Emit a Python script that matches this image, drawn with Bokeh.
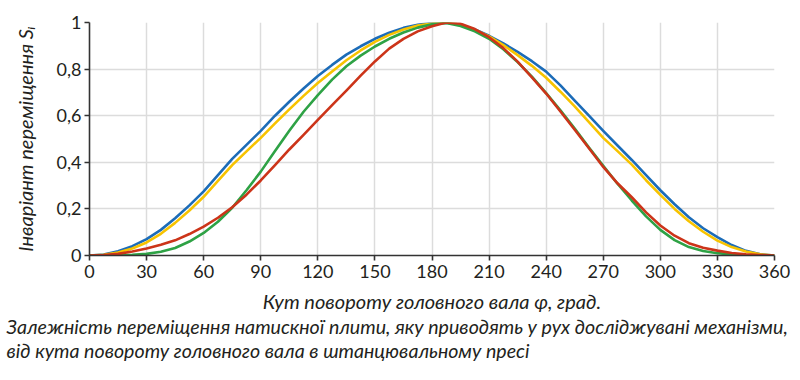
from bokeh.plotting import figure
from bokeh.models import Range1d, FixedTicker, CustomJSTickFormatter, Title
from bokeh.embed import file_html
from bokeh.resources import INLINE

# Data
angle = [0, 7.5, 15, 22.5, 30, 37.5, 45, 52.5, 60, 67.5, 75, 82.5, 90, 97.5, 105, 112.5,
         120, 127.5, 135, 142.5, 150, 157.5, 165, 172.5, 180, 187.5, 195, 202.5, 210, 217.5,
         225, 232.5, 240, 247.5, 255, 262.5, 270, 277.5, 285, 292.5, 300, 307.5, 315, 322.5,
         330, 337.5, 345, 352.5, 360]
blue = [0, 0.004, 0.018, 0.04, 0.07, 0.11, 0.16, 0.215, 0.275, 0.345, 0.415, 0.475, 0.535, 0.6, 0.66, 0.717,
        0.77, 0.818, 0.862, 0.898, 0.93, 0.956, 0.977, 0.99, 0.998, 0.999, 0.99, 0.97, 0.943, 0.91,
        0.874, 0.834, 0.789, 0.73, 0.665, 0.6, 0.535, 0.472, 0.41, 0.345, 0.28, 0.22, 0.164, 0.117,
        0.079, 0.045, 0.02, 0.005, 0]
yellow = [0, 0.003, 0.013, 0.03, 0.056, 0.093, 0.14, 0.193, 0.252, 0.32, 0.388, 0.447, 0.505, 0.567, 0.627, 0.685,
          0.74, 0.79, 0.838, 0.88, 0.917, 0.947, 0.97, 0.987, 0.996, 1.0, 0.99, 0.968, 0.94, 0.903,
          0.86, 0.814, 0.763, 0.703, 0.64, 0.572, 0.505, 0.448, 0.39, 0.323, 0.26, 0.2, 0.147, 0.102,
          0.064, 0.036, 0.017, 0.005, 0]
green = [0, 0.0, 0.001, 0.003, 0.007, 0.016, 0.032, 0.06, 0.097, 0.145, 0.205, 0.28, 0.36, 0.448, 0.535, 0.617,
         0.688, 0.755, 0.812, 0.858, 0.897, 0.93, 0.957, 0.978, 0.992, 0.998, 0.985, 0.962, 0.93, 0.885,
         0.83, 0.768, 0.697, 0.623, 0.545, 0.463, 0.385, 0.308, 0.236, 0.168, 0.11, 0.066, 0.036, 0.019,
         0.01, 0.005, 0.002, 0.0005, 0]
red = [0, 0.002, 0.007, 0.017, 0.03, 0.046, 0.065, 0.092, 0.124, 0.162, 0.207, 0.261, 0.322, 0.388, 0.455, 0.518,
       0.582, 0.645, 0.708, 0.772, 0.833, 0.888, 0.93, 0.962, 0.984, 1.0, 0.995, 0.972, 0.937, 0.89,
       0.832, 0.765, 0.695, 0.618, 0.54, 0.46, 0.38, 0.31, 0.25, 0.185, 0.129, 0.085, 0.053, 0.033,
       0.021, 0.011, 0.005, 0.002, 0]

x_ticks = [0, 30, 60, 90, 120, 150, 180, 210, 240, 270, 300, 330, 360]
y_ticks = [0, 0.2, 0.4, 0.6, 0.8, 1.0]

x_label = "Кут повороту головного вала φ, град."
y_label = "Інваріант переміщення Sᵢ"
caption1 = "Залежність переміщення натискної плити, яку приводять у рух досліджувані механізми,"
caption2 = "від кута повороту головного вала в штанцювальному пресі"

FONT = "Lato"
TXT = "#231f20"

p = figure(width=792, height=372, output_backend="svg", toolbar_location=None,
           x_range=Range1d(0, 360), y_range=Range1d(0, 1),
           min_border_left=89, min_border_right=18, min_border_top=22, min_border_bottom=117)
p.outline_line_color = None
p.background_fill_color = "white"
p.border_fill_color = "white"

for ys, col in [(blue, "#1c6cb8"), (yellow, "#f7c300"), (green, "#2ea245"), (red, "#cc3419")]:
    p.line(angle, ys, line_color=col, line_width=2.6, line_join="round")

p.xaxis.ticker = FixedTicker(ticks=x_ticks)
p.yaxis.ticker = FixedTicker(ticks=y_ticks)
p.yaxis.formatter = CustomJSTickFormatter(code="""
if (Math.abs(tick) < 1e-9) return "0";
if (Math.abs(tick - 1) < 1e-9) return "1";
return tick.toFixed(1).replace('.', ',');
""")

for ax in (p.xaxis[0], p.yaxis[0]):
    ax.axis_line_color = "#333333"
    ax.axis_line_width = 1.6
    ax.major_tick_line_color = "#333333"
    ax.major_tick_line_width = 1.6
    ax.major_tick_in = 0
    ax.major_tick_out = 5
    ax.minor_tick_line_color = None
    ax.major_label_text_font = FONT
    ax.major_label_text_font_size = "18px"
    ax.major_label_text_color = TXT
    ax.axis_label_text_font = FONT
    ax.axis_label_text_font_size = "20px"
    ax.axis_label_text_font_style = "italic"
    ax.axis_label_text_color = TXT

p.xaxis.axis_label = x_label
p.yaxis.axis_label = y_label
p.xaxis.major_label_standoff = 4
p.xaxis.axis_label_standoff = 8
p.yaxis.major_label_standoff = 3
p.yaxis.axis_label_standoff = 17

p.xgrid.grid_line_color = "#dcdcdc"
p.ygrid.grid_line_color = "#dcdcdc"
p.xgrid.grid_line_width = 1.5
p.ygrid.grid_line_width = 1.5

for i, txt in enumerate((caption1, caption2)):
    t = Title(text=txt, align="left", text_font=FONT, text_font_size="19.6px",
              text_font_style="italic", text_color=TXT,
              standoff=(-5 if i == 0 else 2), offset=-83)
    p.add_layout(t, "below")

open("out.html", "w").write(file_html(p, INLINE))
